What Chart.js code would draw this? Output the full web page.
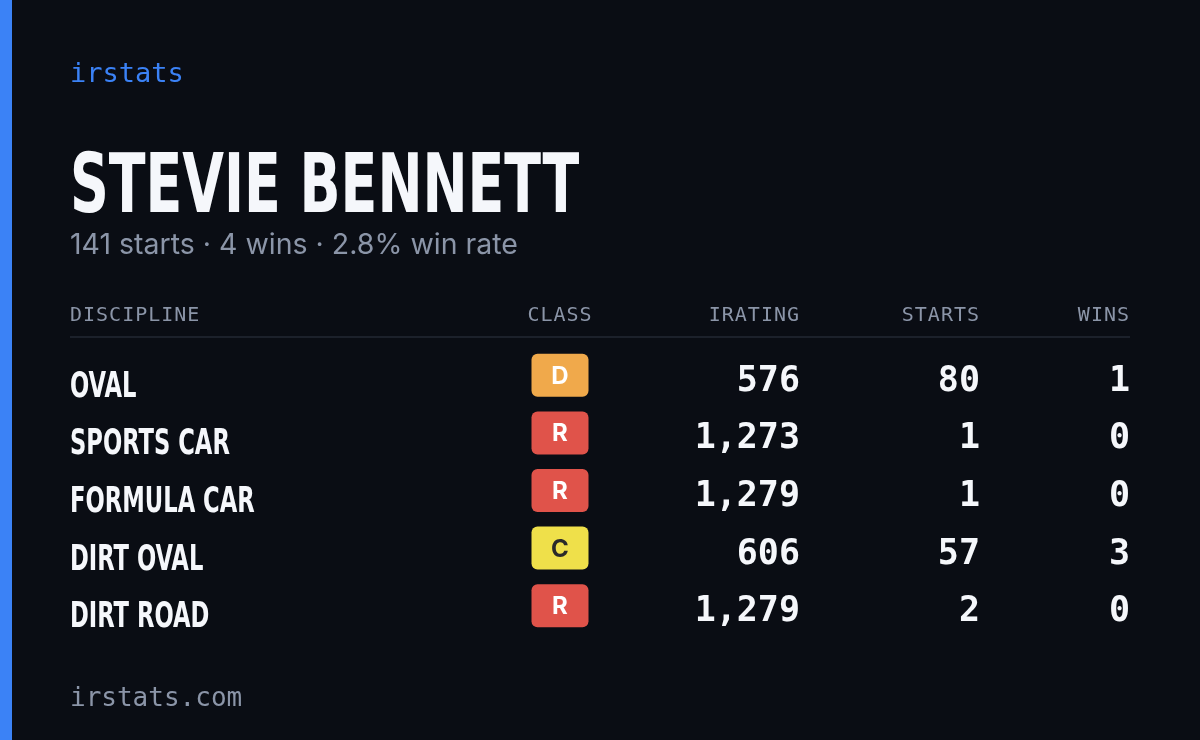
<!DOCTYPE html>
<html>
<head>
<meta charset="utf-8">
<script src="https://cdn.jsdelivr.net/npm/chart.js@4"></script>
<style>
  html, body { margin: 0; padding: 0; background: #0a0d14; }
  #wrap { width: 1200px; height: 740px; }
</style>
</head>
<body>
<div id="wrap"><canvas id="chart" width="1200" height="740"></canvas></div>
<script>
// data
const disciplines = ["OVAL", "SPORTS CAR", "FORMULA CAR", "DIRT OVAL", "DIRT ROAD"];
const classes = ["D", "R", "R", "C", "R"];
const iratings = [576, 1273, 1279, 606, 1279];
const starts = [80, 1, 1, 57, 2];
const wins = [1, 0, 0, 3, 0];
const headers = ["DISCIPLINE", "CLASS", "IRATING", "STARTS", "WINS"];
const driverName = "STEVIE BENNETT";
const subtitle = "141 starts · 4 wins · 2.8% win rate";

const classColors = { D: "#f0a94b", R: "#e0534a", C: "#efe04a" };
const MONO = "'DejaVu Sans Mono', 'Liberation Mono', monospace";
const COND = "'Liberation Sans Narrow', 'DejaVu Sans Condensed', 'Roboto Condensed', sans-serif";
const COL = { name: 70, cls: 560, ir: 800, st: 980, wn: 1130 };

const tablePlugin = {
  id: "table",
  beforeDraw(chart) {
    const c = chart.ctx;
    c.save();
    c.fillStyle = "#0a0d14";
    c.fillRect(0, 0, chart.width, chart.height);
    c.fillStyle = "#3b82f6";
    c.fillRect(0, 0, 12, chart.height);
    c.restore();
  },
  afterDraw(chart) {
    const c = chart.ctx;
    const y = chart.scales.y;
    c.save();
    c.textBaseline = "alphabetic";
    c.fillStyle = "#3b82f6";
    c.font = "27px " + MONO;
    c.fillText("irstats", 70, 82);

    c.fillStyle = "#f5f7fb";
    c.font = "bold 82px " + COND;
    c.save();
    c.translate(70, 212);
    c.scale(0.73, 1);
    c.fillText(driverName, 0, 0);
    c.restore();

    c.fillStyle = "#8b95a8";
    c.font = "28.5px 'Inter', 'Noto Sans', sans-serif";
    c.fillText(subtitle, 70, 254);

    // header row
    c.font = "20px " + MONO;
    c.fillStyle = "#8b95a8";
    if (c.letterSpacing !== undefined) c.letterSpacing = "1px";
    c.textAlign = "left";
    c.fillText(headers[0], COL.name, 321);
    c.textAlign = "center";
    c.fillText(headers[1], COL.cls, 321);
    c.textAlign = "right";
    c.fillText(headers[2], COL.ir, 321);
    c.fillText(headers[3], COL.st, 321);
    c.fillText(headers[4], COL.wn, 321);
    if (c.letterSpacing !== undefined) c.letterSpacing = "0px";
    c.fillStyle = "#1c212b";
    c.fillRect(70, 336, 1060, 2);

    // rows
    const meta = chart.getDatasetMeta(0);
    disciplines.forEach((d, i) => {
      const py = y.getPixelForValue(i);
      c.textAlign = "left";
      c.fillStyle = "#f5f7fb";
      c.font = "bold 35px " + COND;
      c.save();
      c.translate(COL.name, py + 16);
      c.scale(0.72, 1);
      c.fillText(d, 0, 0);
      c.restore();

      const bx = meta.data[i].x;
      c.fillStyle = classColors[classes[i]];
      c.beginPath();
      c.roundRect(bx - 28.5, py - 27, 57, 43, 6);
      c.fill();
      c.fillStyle = classes[i] === "C" ? "#2a2a2a" : "#ffffff";
      c.textAlign = "center";
      c.font = "bold 24px 'Inter', 'Noto Sans', sans-serif";
      c.fillText(classes[i], bx, py + 3);

      c.fillStyle = "#f5f7fb";
      c.textAlign = "right";
      c.font = "bold 35px " + MONO;
      c.fillText(iratings[i].toLocaleString("en-US"), COL.ir, py + 10);
      c.fillText(String(starts[i]), COL.st, py + 10);
      c.fillText(String(wins[i]), COL.wn, py + 10);
    });

    c.textAlign = "left";
    c.fillStyle = "#8b95a8";
    c.font = "26px " + MONO;
    c.fillText("irstats.com", 70, 706);
    c.restore();
  }
};

new Chart(document.getElementById("chart"), {
  type: "scatter",
  data: {
    datasets: [{
      data: disciplines.map((d, i) => ({ x: COL.cls, y: i })),
      pointRadius: 0
    }]
  },
  options: {
    responsive: false,
    animation: false,
    events: [],
    layout: { padding: { top: 352, bottom: 100, left: 0, right: 0 } },
    plugins: { legend: { display: false }, tooltip: { enabled: false } },
    scales: {
      x: { type: "linear", min: 0, max: 1200, display: false },
      y: { type: "category", labels: disciplines, offset: true, display: false }
    }
  },
  plugins: [tablePlugin]
});
</script>
</body>
</html>
